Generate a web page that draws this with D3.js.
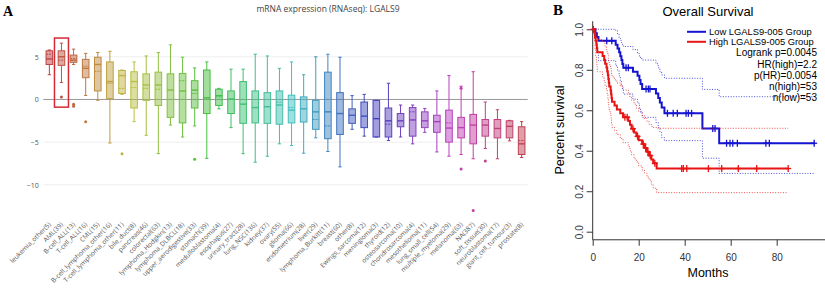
<!DOCTYPE html>
<html>
<head>
<meta charset="UTF-8">
<script src="https://d3js.org/d3.v7.min.js"></script>
<style>
    body { margin: 0; background: #fff; }
    svg { display: block; }
</style>
</head>
<body>
<svg id="chart" width="825" height="288"></svg>
<script>
// ---------- panel A : boxplots ----------
const cancerTypes = [
    "leukemia_other(5)", "AML(39)", "B-cell_ALL(13)", "T-cell_ALL(16)", "CML(15)",
    "B-cell_lymphoma_other(16)", "T-cell_lymphoma_other(11)", "bile_duct(8)", "pancreas(46)", "colorectal(63)",
    "lymphoma_Hodgkin(13)", "lymphoma_DLBCL(18)", "upper_aerodigestive(33)", "stomach(39)", "medulloblastoma(4)",
    "esophagus(27)", "urinary_tract(28)", "lung_NSC(136)", "kidney(37)", "ovary(55)",
    "glioma(66)", "endometrium(28)", "liver(29)", "lymphoma_Burkitt(11)", "breast(60)",
    "other(8)", "Ewings_sarcoma(12)", "meningioma(3)", "thyroid(12)", "osteosarcoma(10)",
    "chondrosarcoma(4)", "mesothelioma(11)", "lung_small_cell(54)", "multiple_myeloma(29)", "melanoma(63)",
    "NA(387)", "soft_tissue(30)", "neuroblastoma(17)", "giant_cell_tumour(3)", "prostate(8)"
];
const whiskerLow = [2.9, 2.0, 4.1, 0.47, -0.1, -5.1, 0.6, -2.6, -4.2, -6.35,
    -3.0, -4.4, -3.1, -6.9, -1.1, -3.3, -6.35, -7.35, -6.65, -5.2,
    -5.4, -6.3, -4.5, -6.1, -7.9, -3.5, -4.3, -4.4, -4.8, -4.4,
    -5.2, -3.85, -6.15, -6.65, -6.45, -6.95, -5.75, -6.95, -4.85, -6.8];
const q1 = [4.1, 4.0, 4.35, 2.55, 1.0, 0.1, 0.7, -1.0, -0.1, -0.7,
    -2.1, -2.75, -1.0, -1.65, -0.7, -1.65, -2.8, -2.75, -2.8, -2.9,
    -2.75, -2.65, -3.5, -4.6, -4.1, -2.8, -3.3, -4.4, -4.4, -3.2,
    -4.3, -3.3, -3.85, -5.0, -4.5, -5.2, -4.3, -4.5, -4.5, -6.45];
const medians = [4.75, 5.0, 4.6, 3.65, 4.1, 2.1, 2.8, 2.1, 1.7, 1.7,
    1.1, 1.0, 1.1, 0.2, 0.45, 0.05, -0.55, -0.95, -0.85, -0.65,
    -1.25, -1.1, -1.45, -1.45, -1.65, -1.85, -1.95, -2.25, -2.5, -2.5,
    -2.4, -2.5, -2.6, -3.35, -3.3, -3.0, -3.0, -3.4, -3.15, -5.2];
const q3 = [5.7, 5.7, 5.2, 4.7, 4.95, 4.4, 3.4, 3.25, 3.0, 3.2,
    3.0, 3.05, 2.2, 3.45, 1.2, 1.0, 2.1, 1.0, 0.8, 1.0,
    0.5, 0.3, -0.1, 3.2, 0.8, -1.1, -0.3, -0.1, -1.0, -1.65,
    -0.95, -1.45, -1.85, -1.25, -2.1, -1.75, -2.35, -2.35, -2.5, -3.2];
const whiskerHigh = [5.8, 6.6, 5.9, 5.4, 5.5, 5.65, 3.45, 4.4, 5.1, 5.5,
    6.4, 4.95, 3.7, 4.4, 1.3, 3.55, 3.55, 5.3, 5.1, 3.65,
    4.4, 2.9, 5.0, 5.3, 4.95, 0.45, 0.6, -0.1, 1.9, -0.65,
    -0.65, -1.05, 1.0, 2.8, 1.55, 3.25, -0.3, -1.2, -2.45, -2.6];
const means = [5.3, 4.6, 4.8, 3.9, 3.3, 1.9, 1.3, 1.4, 1.3, 1.2,
    null, 2.2, 0.7, null, 0.3, null, null, null, null, -0.3,
    -0.95, null, -2.35, -3.1, null, null, null, null, -2.9, null,
    -1.45, null, null, -2.75, null, null, null, null, null, -4.8];
const outliers = [[], [0.3], [-0.55, -0.8], [-2.6], [], [], [-6.35], [], [], [],
    [], [], [-7.0], [], [], [], [], [], [], [],
    [], [], [], [], [], [], [], [], [], [],
    [], [], [], [], [1.3, -8.15], [-13.0], [-7.2], [], [], []];
const yTicksA = [-10, -5, 0, 5];
const highlighted = "AML(39)";

// ---------- panel B : Kaplan-Meier ----------
const lowTimes  = [0, 1.2, 1.8, 2.5, 10.0, 10.8, 11.5, 12.0, 12.5, 12.9, 13.3, 17.5, 19.5, 20.3, 20.8, 21.5, 27.5, 28.5, 29.2, 30.0, 31.2, 47.7, 55.0];
const lowSurv   = [1, 0.981, 0.962, 0.943, 0.924, 0.905, 0.886, 0.867, 0.848, 0.829, 0.810, 0.790, 0.770, 0.750, 0.730, 0.705, 0.683, 0.661, 0.638, 0.614, 0.585, 0.510, 0.437];
const lowUpper  = [1, 1, 1, 1, 0.995, 0.975, 0.955, 0.945, 0.935, 0.925, 0.915, 0.90, 0.88, 0.865, 0.855, 0.848, 0.83, 0.81, 0.79, 0.775, 0.758, 0.703, 0.667];
const lowLower  = [1, 0.945, 0.89, 0.845, 0.82, 0.795, 0.77, 0.745, 0.72, 0.70, 0.68, 0.655, 0.635, 0.61, 0.59, 0.565, 0.54, 0.515, 0.49, 0.465, 0.45, 0.363, 0.288];
const lowEnd = 96.5;
const lowCensor = [6.1, 8.3, 14.5, 15.5, 23.2, 24.2, 24.9, 32.5, 35.0, 36.8, 40.6, 41.6, 43.0, 52.2, 53.2, 58.2, 59.7, 60.9, 62.9, 75.3, 76.8, 96.3];

const highTimes = [0, 0.8, 1.0, 1.3, 1.6, 1.8, 2.0, 4.3, 5.0, 5.4, 6.0, 6.3, 6.6, 6.8, 7.0, 7.2, 7.8, 8.0, 8.2, 8.4, 9.5, 10.5, 12.0, 13.2, 15.5, 16.2, 16.9, 18.0, 19.0, 20.0, 21.5, 22.5, 23.6, 24.5, 25.5, 26.3, 27.8];
const highSurv  = [1, 0.981, 0.962, 0.943, 0.925, 0.906, 0.887, 0.868, 0.849, 0.830, 0.811, 0.792, 0.774, 0.755, 0.736, 0.717, 0.698, 0.679, 0.660, 0.642, 0.623, 0.604, 0.585, 0.566, 0.547, 0.528, 0.509, 0.490, 0.471, 0.452, 0.433, 0.414, 0.395, 0.376, 0.357, 0.338, 0.312];
const highUpper = [1, 1, 0.995, 0.985, 0.97, 0.96, 0.95, 0.94, 0.93, 0.915, 0.90, 0.885, 0.87, 0.855, 0.84, 0.825, 0.81, 0.795, 0.78, 0.765, 0.75, 0.735, 0.72, 0.70, 0.685, 0.665, 0.65, 0.63, 0.61, 0.595, 0.575, 0.56, 0.545, 0.53, 0.52, 0.515, 0.511];
const highLower = [1, 0.945, 0.90, 0.87, 0.84, 0.815, 0.79, 0.765, 0.745, 0.72, 0.70, 0.68, 0.655, 0.635, 0.615, 0.595, 0.575, 0.555, 0.535, 0.515, 0.50, 0.48, 0.46, 0.44, 0.42, 0.40, 0.38, 0.36, 0.345, 0.325, 0.305, 0.29, 0.27, 0.255, 0.235, 0.215, 0.193];
const highEnd = 85;
const highCensor = [0.3, 14.0, 15.0, 17.5, 19.5, 22.0, 23.0, 24.0, 25.0, 27.0, 38.7, 39.4, 40.9, 50.3, 56.1, 63.3, 71.3, 85.0];

const monthTicks = [0, 20, 40, 60, 80];
const survTicks = [0, 0.2, 0.4, 0.6, 0.8, 1.0];
const legendLabels = ["Low LGALS9-005 Group", "High LGALS9-005 Group"];
const statLabels = ["Logrank p=0.0045", "HR(high)=2.2", "p(HR)=0.0054", "n(high)=53", "n(low)=53"];

const svg = d3.select("#chart");

// ===== panel A =====
const x = d3.scaleBand().domain(cancerTypes).range([43.3, 527.7]);
const y = d3.scaleLinear().domain([-10, 5]).range([184.8, 56.8]);
const colorOf = i => d3.hsl(360 * i / cancerTypes.length, 0.5, 0.5).toString();
const boxW = 6.6, capW = 3.3;

svg.append("text")
    .attr("x", 3).attr("y", 16)
    .style("font-family", "Liberation Serif, serif")
    .style("font-weight", "bold").style("font-size", "14px")
    .text("A");

svg.append("text")
    .attr("x", 328).attr("y", 12)
    .attr("text-anchor", "middle")
    .style("font-family", "Open Sans, sans-serif")
    .style("font-size", "8.5px").attr("fill", "#444")
    .text("mRNA expression (RNAseq): LGALS9");

svg.append("g").selectAll("line")
    .data(yTicksA.filter(d => d !== 0))
    .enter().append("line")
    .attr("x1", 43.3).attr("x2", 527.7)
    .attr("y1", d => y(d)).attr("y2", d => y(d))
    .attr("stroke", "#eee");

const axA = svg.append("g")
    .attr("transform", "translate(43.3,0)")
    .call(d3.axisLeft(y).tickValues(yTicksA).tickSize(0).tickPadding(4.5));
axA.select(".domain").remove();
axA.selectAll("text").style("font-family", "Open Sans, sans-serif").style("font-size", "7px").attr("fill", "#555");

svg.append("line")
    .attr("x1", 43.3).attr("x2", 527.7)
    .attr("y1", y(0)).attr("y2", y(0))
    .attr("stroke", "#999").attr("stroke-width", 1);

const boxes = svg.append("g").selectAll("g")
    .data(cancerTypes)
    .enter().append("g")
    .attr("transform", d => `translate(${x(d) + x.bandwidth() / 2},0)`);

boxes.each(function (d, i) {
    const g = d3.select(this);
    const c = colorOf(i);
    g.append("line").attr("y1", y(whiskerLow[i])).attr("y2", y(q1[i])).attr("stroke", c);
    g.append("line").attr("y1", y(q3[i])).attr("y2", y(whiskerHigh[i])).attr("stroke", c);
    [whiskerLow[i], whiskerHigh[i]].forEach(v => {
        g.append("line").attr("x1", -capW / 2).attr("x2", capW / 2)
            .attr("y1", y(v)).attr("y2", y(v)).attr("stroke", c);
    });
    g.append("rect")
        .attr("x", -boxW / 2).attr("width", boxW)
        .attr("y", y(q3[i])).attr("height", Math.max(0.5, y(q1[i]) - y(q3[i])))
        .attr("fill", c).attr("fill-opacity", 0.5)
        .attr("stroke", c);
    g.append("line").attr("x1", -boxW / 2).attr("x2", boxW / 2)
        .attr("y1", y(medians[i])).attr("y2", y(medians[i]))
        .attr("stroke", c).attr("stroke-width", 1.4);
    if (means[i] !== null) {
        g.append("line").attr("x1", -boxW / 2).attr("x2", boxW / 2)
            .attr("y1", y(means[i])).attr("y2", y(means[i]))
            .attr("stroke", c).attr("stroke-dasharray", "2,1");
    }
    g.selectAll("circle").data(outliers[i]).enter().append("circle")
        .attr("cy", v => y(v)).attr("r", 1.5).attr("fill", c);
});

svg.append("rect")
    .attr("x", x(highlighted) + x.bandwidth() / 2 - 7)
    .attr("y", y(7.2))
    .attr("width", 14)
    .attr("height", y(-0.9) - y(7.2))
    .attr("fill", "none").attr("stroke", "#d42a36").attr("stroke-width", 1.5);

svg.append("g").selectAll("text")
    .data(cancerTypes)
    .enter().append("text")
    .attr("transform", d => `translate(${x(d) + x.bandwidth() / 2 + 2},225) rotate(-45)`)
    .attr("text-anchor", "end")
    .style("font-family", "Open Sans, sans-serif")
    .style("font-size", "6.5px").attr("fill", "#555")
    .text(d => d);

// ===== panel B =====
const kx = d3.scaleLinear().domain([0, 80]).range([592.7, 776.7]);
const ky = d3.scaleLinear().domain([0, 1]).range([231.7, 29.3]);
const blue = "#1414d2", red = "#e81414";
const font = "Liberation Sans, Arial, sans-serif";

svg.append("text")
    .attr("x", 553).attr("y", 15)
    .style("font-family", "Liberation Serif, serif")
    .style("font-weight", "bold").style("font-size", "15px")
    .text("B");

svg.append("text")
    .attr("x", 708).attr("y", 16)
    .attr("text-anchor", "middle")
    .style("font-family", font).style("font-size", "13px")
    .text("Overall Survival");

// frame
svg.append("path")
    .attr("d", `M${kx(0)},${ky(1.04)}V${ky(-0.04)}H825`)
    .attr("fill", "none").attr("stroke", "#333").attr("stroke-width", 1);

const axX = svg.append("g")
    .attr("transform", `translate(0,${ky(-0.04)})`)
    .call(d3.axisBottom(kx).tickValues(monthTicks).tickSize(6).tickPadding(8).tickFormat(d3.format("d")));
axX.select(".domain").remove();
axX.selectAll("line").attr("stroke", "#333");
axX.selectAll("text").style("font-family", font).style("font-size", "10px").attr("fill", "#333");

const axY = svg.append("g")
    .attr("transform", `translate(${kx(0)},0)`)
    .call(d3.axisLeft(ky).tickValues(survTicks).tickSize(6).tickFormat(d3.format(".1f")));
axY.select(".domain").remove();
axY.selectAll("line").attr("stroke", "#333");
axY.selectAll("text")
    .attr("x", null).attr("dy", null)
    .attr("text-anchor", "middle")
    .attr("transform", "translate(-10,0) rotate(-90)")
    .style("font-family", font).style("font-size", "10px").attr("fill", "#333");

svg.append("text")
    .attr("transform", "translate(564,130) rotate(-90)")
    .attr("text-anchor", "middle")
    .style("font-family", font).style("font-size", "12.5px")
    .text("Percent survival");

svg.append("text")
    .attr("x", 708).attr("y", 277)
    .attr("text-anchor", "middle")
    .style("font-family", font).style("font-size", "12.5px")
    .text("Months");

const stepLine = d3.line().x(d => kx(d[0])).y(d => ky(d[1])).curve(d3.curveStepAfter);
const series = (times, vals, end) => times.map((t, i) => [t, vals[i]]).concat([[end, vals[vals.length - 1]]]);

function drawGroup(times, surv, upper, lower, end, censor, col) {
    [upper, lower].forEach(ci => {
        svg.append("path")
            .attr("d", stepLine(series(times, ci, end)))
            .attr("fill", "none").attr("stroke", col).attr("stroke-opacity", 0.75)
            .attr("stroke-width", 1).attr("stroke-dasharray", "1,1.6");
    });
    svg.append("path")
        .attr("d", stepLine(series(times, surv, end)))
        .attr("fill", "none").attr("stroke", col).attr("stroke-width", 2);
    const at = t => surv[d3.bisectRight(times, t) - 1];
    const cg = svg.append("g").attr("stroke", col).attr("stroke-width", 1.3);
    censor.forEach(t => {
        cg.append("line").attr("x1", kx(t)).attr("x2", kx(t))
            .attr("y1", ky(at(t)) - 3.5).attr("y2", ky(at(t)) + 3.5);
        cg.append("line").attr("x1", kx(t) - 3).attr("x2", kx(t) + 3)
            .attr("y1", ky(at(t))).attr("y2", ky(at(t)));
    });
}
drawGroup(lowTimes, lowSurv, lowUpper, lowLower, lowEnd, lowCensor, blue);
drawGroup(highTimes, highSurv, highUpper, highLower, highEnd, highCensor, red);

// legend
const leg = svg.append("g");
legendLabels.forEach((lab, i) => {
    const ly = 31.8 + i * 10;
    leg.append("line").attr("x1", 687).attr("x2", 706).attr("y1", ly).attr("y2", ly)
        .attr("stroke", i === 0 ? blue : red).attr("stroke-width", 2);
    leg.append("text").attr("x", 709).attr("y", ly + 3.4)
        .style("font-family", font).style("font-size", "9.4px")
        .text(lab);
});
statLabels.forEach((lab, i) => {
    leg.append("text").attr("x", 817).attr("y", 56.2 + i * 11.3)
        .attr("text-anchor", "end")
        .style("font-family", font).style("font-size", "10px")
        .text(lab);
});
</script>
</body>
</html>
